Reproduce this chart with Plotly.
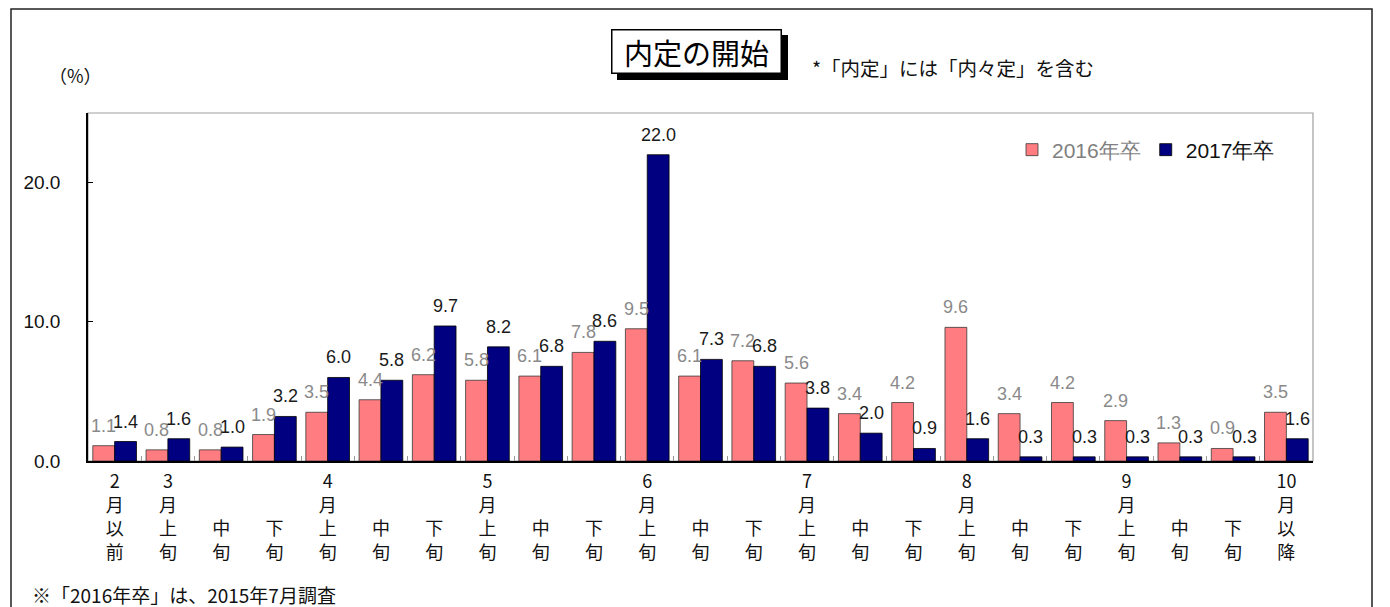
import plotly.graph_objects as go

categories = ["2月以前", "3月上旬", "3月中旬", "3月下旬", "4月上旬", "4月中旬", "4月下旬",
              "5月上旬", "5月中旬", "5月下旬", "6月上旬", "6月中旬", "6月下旬",
              "7月上旬", "7月中旬", "7月下旬", "8月上旬", "8月中旬", "8月下旬",
              "9月上旬", "9月中旬", "9月下旬", "10月以降"]
tick_labels = ["2<br>月<br>以<br>前", "3<br>月<br>上<br>旬", "　<br>　<br>中<br>旬", "　<br>　<br>下<br>旬",
               "4<br>月<br>上<br>旬", "　<br>　<br>中<br>旬", "　<br>　<br>下<br>旬",
               "5<br>月<br>上<br>旬", "　<br>　<br>中<br>旬", "　<br>　<br>下<br>旬",
               "6<br>月<br>上<br>旬", "　<br>　<br>中<br>旬", "　<br>　<br>下<br>旬",
               "7<br>月<br>上<br>旬", "　<br>　<br>中<br>旬", "　<br>　<br>下<br>旬",
               "8<br>月<br>上<br>旬", "　<br>　<br>中<br>旬", "　<br>　<br>下<br>旬",
               "9<br>月<br>上<br>旬", "　<br>　<br>中<br>旬", "　<br>　<br>下<br>旬",
               "10<br>月<br>以<br>降"]
grad_2016 = [1.1, 0.8, 0.8, 1.9, 3.5, 4.4, 6.2, 5.8, 6.1, 7.8, 9.5, 6.1, 7.2,
             5.6, 3.4, 4.2, 9.6, 3.4, 4.2, 2.9, 1.3, 0.9, 3.5]
grad_2017 = [1.4, 1.6, 1.0, 3.2, 6.0, 5.8, 9.7, 8.2, 6.8, 8.6, 22.0, 7.3, 6.8,
             3.8, 2.0, 0.9, 1.6, 0.3, 0.3, 0.3, 0.3, 0.3, 1.6]
y_ticks = [0, 10, 20]

NUM_FONT = "Liberation Sans, Arial, sans-serif"
JP_FONT = "Noto Sans CJK JP, sans-serif"
COL_2016 = "#FF7C80"
COL_2017 = "#000080"
LBL_2016 = "#8a8a8a"
LBL_2017 = "#1a1a1a"

# page has an 8px body margin; target picture coords are converted accordingly
OFF = 8
W, H = 1390 - OFF, 607 - OFF
L = 88 - OFF
T = 113 - OFF
B = H - (461 - OFF)
R = W - (1313 - OFF)
pw, ph = W - L - R, H - T - B
BARGAP = 0.18


def px_x(p):
    return (p - OFF - L) / pw


def px_y(p):
    return (H - B - (p - OFF)) / ph


fig = go.Figure()
fig.add_trace(go.Bar(
    x=categories, y=grad_2016,
    name="<span style='color:#7f7f7f'>2016年卒</span>",
    marker=dict(color=COL_2016, line=dict(color="#3a3a3a", width=0.8)),
))
fig.add_trace(go.Bar(
    x=categories, y=grad_2017,
    name="<span style='color:#111111'>2017年卒</span>",
    marker=dict(color=COL_2017, line=dict(color="#000000", width=0.8)),
))

# value labels centred above each bar of the group
slot = pw / len(categories)
half_bar = slot * (1 - BARGAP) / 4
annotations = []
for series, col, sign in ((grad_2016, LBL_2016, -1), (grad_2017, LBL_2017, 1)):
    for cat, v in zip(categories, series):
        annotations.append(dict(
            x=cat, y=v, xref="x", yref="y", text=f"{v:.1f}", showarrow=False,
            xanchor="center", yanchor="bottom", xshift=sign * half_bar, yshift=8,
            font=dict(family=NUM_FONT, size=18, color=col)))

title_box = dict(text="内定の開始", xref="paper", yref="paper", x=px_x(696), y=px_y(52),
                 xanchor="center", yanchor="middle", showarrow=False,
                 width=166, height=40, align="center", valign="middle",
                 font=dict(family=JP_FONT, size=29, color="#000000"),
                 bordercolor="#000000", borderwidth=1.5, borderpad=1)
annotations += [
    dict(title_box, xshift=6, yshift=-6, bgcolor="#000000"),
    dict(title_box, bgcolor="#ffffff"),
    dict(text="*「内定」には「内々定」を含む", xref="paper", yref="paper",
         x=px_x(810), y=px_y(68), xanchor="left", yanchor="middle", showarrow=False,
         font=dict(family=JP_FONT, size=19.5, color="#111111")),
    dict(text="（%）", xref="paper", yref="paper",
         x=px_x(75), y=px_y(75), xanchor="center", yanchor="middle", showarrow=False,
         font=dict(family=JP_FONT, size=18, color="#111111")),
    dict(text="※「2016年卒」は、2015年7月調査", xref="paper", yref="paper",
         x=px_x(30), y=px_y(594), xanchor="left", yanchor="middle", showarrow=False,
         font=dict(family=JP_FONT, size=19, color="#111111")),
]

fig.update_layout(
    width=W, height=H,
    margin=dict(l=L, r=R, t=T, b=B),
    paper_bgcolor="white", plot_bgcolor="white",
    barmode="group", bargap=BARGAP, bargroupgap=0.0,
    font=dict(family=JP_FONT, color="#111111"),
    showlegend=True,
    legend=dict(orientation="h", x=px_x(1012), y=px_y(150), xanchor="left", yanchor="middle",
                font=dict(family=NUM_FONT, size=21), bgcolor="rgba(0,0,0,0)",
                traceorder="normal"),
    xaxis=dict(
        tickmode="array", tickvals=categories, ticktext=tick_labels,
        tickfont=dict(family=JP_FONT, size=18, color="#111111"),
        showline=True, linecolor="#000000", linewidth=1.5,
        ticks="inside", tickson="boundaries", ticklen=5, tickcolor="#999999",
        showgrid=False, ticklabelstandoff=4,
    ),
    yaxis=dict(
        range=[0, 25], tickvals=y_ticks, tickformat=".1f",
        tickfont=dict(family=NUM_FONT, size=19, color="#111111"),
        showline=True, linecolor="#000000", linewidth=1.5,
        ticks="inside", ticklen=5, tickcolor="#000000",
        showgrid=False, zeroline=False, ticklabelstandoff=22,
    ),
    shapes=[
        dict(type="rect", xref="paper", yref="paper", x0=0, x1=1, y0=0, y1=1,
             line=dict(color="#a0a0a0", width=1.2), layer="below"),
        dict(type="rect", xref="paper", yref="paper",
             x0=px_x(11), x1=px_x(1372), y0=px_y(640), y1=px_y(9),
             line=dict(color="#222222", width=1.5), layer="below"),
    ],
    annotations=annotations,
)

fig.write_html("out.html")
